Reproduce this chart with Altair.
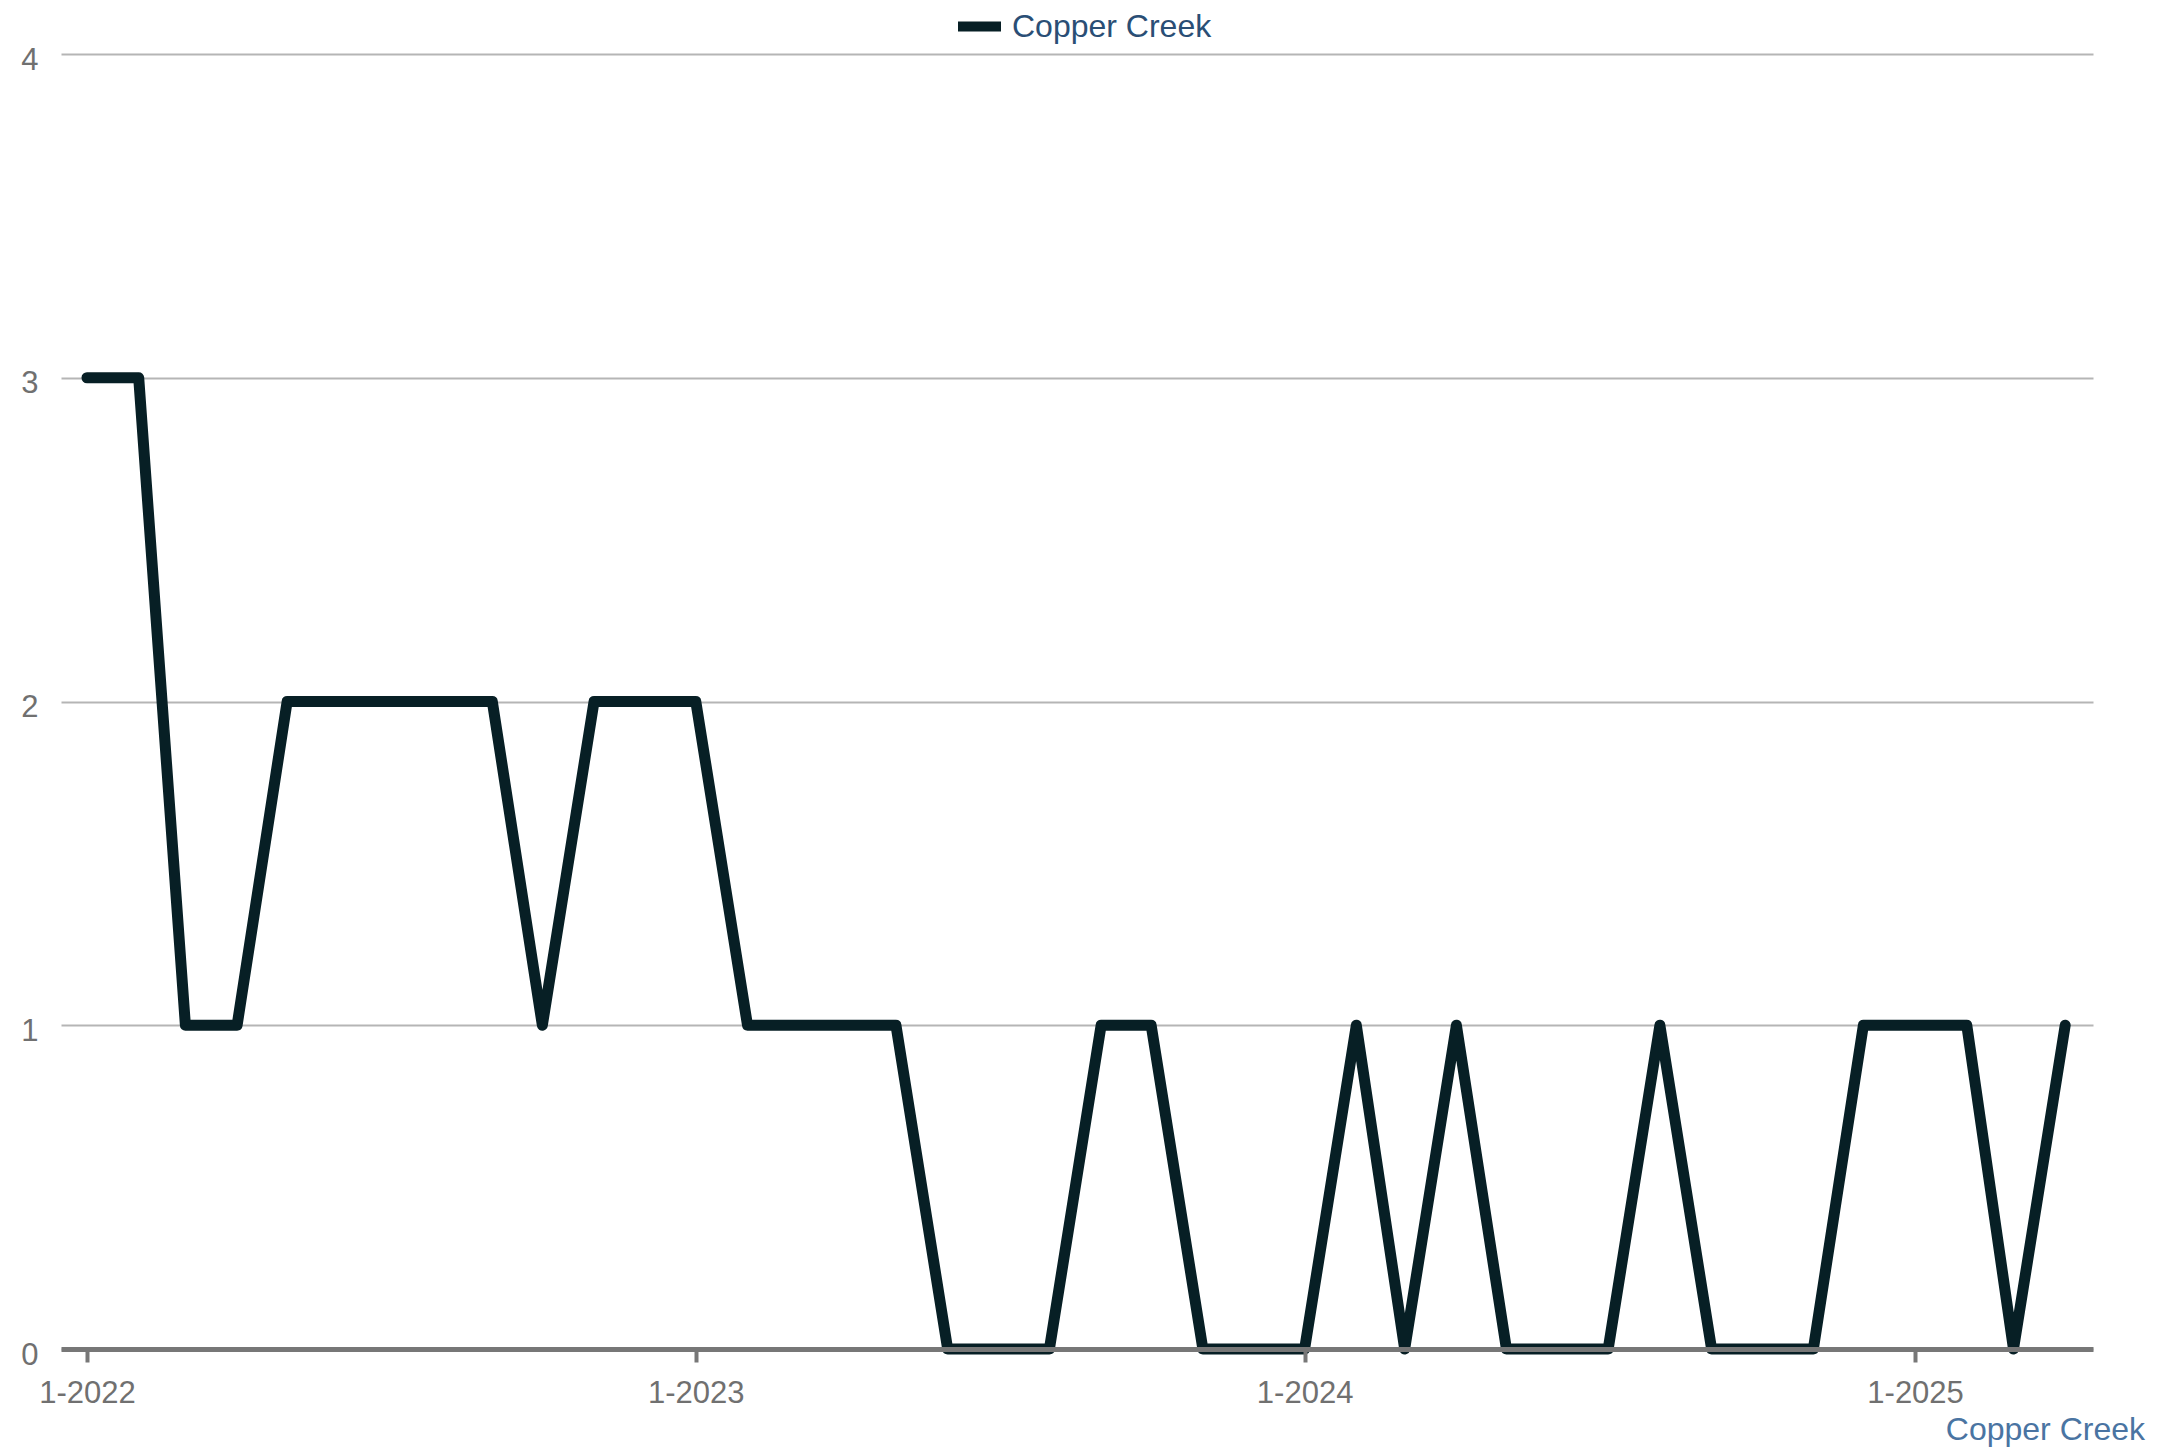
import altair as alt
import pandas as pd

# Monthly values, Jan 2022 .. Apr 2025
months = [
    "2022/01/01", "2022/02/01", "2022/03/01", "2022/04/01", "2022/05/01", "2022/06/01",
    "2022/07/01", "2022/08/01", "2022/09/01", "2022/10/01", "2022/11/01", "2022/12/01",
    "2023/01/01", "2023/02/01", "2023/03/01", "2023/04/01", "2023/05/01", "2023/06/01",
    "2023/07/01", "2023/08/01", "2023/09/01", "2023/10/01", "2023/11/01", "2023/12/01",
    "2024/01/01", "2024/02/01", "2024/03/01", "2024/04/01", "2024/05/01", "2024/06/01",
    "2024/07/01", "2024/08/01", "2024/09/01", "2024/10/01", "2024/11/01", "2024/12/01",
    "2025/01/01", "2025/02/01", "2025/03/01", "2025/04/01",
]
values = [
    3, 3, 1, 1, 2, 2, 2, 2, 2, 1, 2, 2,
    2, 1, 1, 1, 1, 0, 0, 0, 1, 1, 0, 0,
    0, 1, 0, 1, 0, 0, 0, 1, 0, 0, 0, 1,
    1, 1, 0, 1,
]
series_name = "Copper Creek"
y_ticks = [0, 1, 2, 3, 4]
x_tick_years = [2022, 2023, 2024, 2025]

df = pd.DataFrame({"month": months, "value": values, "series": [series_name] * len(months)})

FONT = "Liberation Sans"
LINE_COLOR = "#071f25"

x_scale = alt.Scale(
    domain=[
        alt.DateTime(year=2021, month=12, date=16, hours=10),
        alt.DateTime(year=2025, month=4, date=17, hours=16),
    ]
)

chart = (
    alt.Chart(df)
    .mark_line(strokeWidth=11, strokeCap="round", strokeJoin="round")
    .encode(
        x=alt.X(
            "month:T",
            scale=x_scale,
            title=None,
            axis=alt.Axis(
                values=[alt.DateTime(year=y, month=1, date=1) for y in x_tick_years],
                format="%-m-%Y",
                grid=False,
                domain=True,
                domainColor="#777777",
                domainWidth=5,
                ticks=True,
                tickColor="#777777",
                tickWidth=4,
                tickSize=13,
                labelFont=FONT,
                labelFontSize=31,
                labelColor="#707070",
                labelPadding=16,
                zindex=1,
            ),
        ),
        y=alt.Y(
            "value:Q",
            scale=alt.Scale(domain=[0, 4], nice=False),
            title=None,
            axis=alt.Axis(
                values=y_ticks,
                grid=True,
                gridColor="#b5b5b5",
                gridWidth=2,
                domain=False,
                ticks=False,
                labelFont=FONT,
                labelFontSize=31,
                labelColor="#707070",
                labelPadding=23,
                labelOffset=6,
            ),
        ),
        color=alt.Color(
            "series:N",
            scale=alt.Scale(domain=[series_name], range=[LINE_COLOR]),
            legend=alt.Legend(
                title=None,
                orient="none",
                legendX=892,
                legendY=-54,
                direction="horizontal",
                symbolType="stroke",
                symbolStrokeWidth=10,
                symbolSize=1849,
                labelFont=FONT,
                labelFontSize=32,
                labelColor="#2a4e75",
                labelOffset=6,
                labelLimit=500,
                padding=0,
            ),
        ),
    )
    .properties(
        width=2032,
        height=1295,
        autosize=alt.AutoSizeParams(type="none"),
        padding={"left": 53, "top": 46, "right": 58, "bottom": 98},
        title=alt.TitleParams(
            text="Copper Creek",
            orient="bottom",
            anchor="end",
            frame="group",
            font=FONT,
            fontSize=32,
            fontWeight="normal",
            color="#4a74a2",
            dx=52,
            offset=7,
        ),
    )
    .configure_view(stroke=None)
)

chart.save("out.html", embed_options={"renderer": "svg", "actions": False})
